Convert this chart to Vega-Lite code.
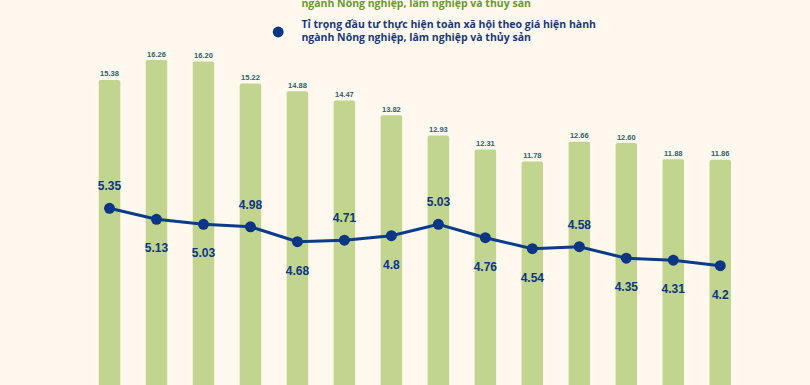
{
  "$schema": "https://vega.github.io/schema/vega-lite/v6.json",
  "width": 810,
  "height": 385,
  "padding": 0,
  "autosize": {"type": "none"},
  "background": "#fff8ee",
  "config": {
    "view": {"stroke": null},
    "legend": {
      "orient": "none",
      "legendX": 272.7,
      "legendY": -6.7,
      "padding": 0,
      "symbolType": "circle",
      "symbolSize": 119,
      "symbolStrokeWidth": 0,
      "symbolOpacity": 1,
      "labelFont": "Open Sans",
      "labelFontWeight": "bold",
      "labelFontSize": 10.5,
      "labelLineHeight": 14,
      "labelOffset": 17.7,
      "labelLimit": 0,
      "labelBaseline": "middle",
      "rowPadding": 9.2
    }
  },
  "data": {
    "values": [
      {"i": 1, "gdp": 15.38, "dt": 5.35, "side": "above"},
      {"i": 2, "gdp": 16.26, "dt": 5.13, "side": "below"},
      {"i": 3, "gdp": 16.20, "dt": 5.03, "side": "below"},
      {"i": 4, "gdp": 15.22, "dt": 4.98, "side": "above"},
      {"i": 5, "gdp": 14.88, "dt": 4.68, "side": "below"},
      {"i": 6, "gdp": 14.47, "dt": 4.71, "side": "above"},
      {"i": 7, "gdp": 13.82, "dt": 4.8, "side": "below"},
      {"i": 8, "gdp": 12.93, "dt": 5.03, "side": "above"},
      {"i": 9, "gdp": 12.31, "dt": 4.76, "side": "below"},
      {"i": 10, "gdp": 11.78, "dt": 4.54, "side": "below"},
      {"i": 11, "gdp": 12.66, "dt": 4.58, "side": "above"},
      {"i": 12, "gdp": 12.60, "dt": 4.35, "side": "below"},
      {"i": 13, "gdp": 11.88, "dt": 4.31, "side": "below"},
      {"i": 14, "gdp": 11.86, "dt": 4.2, "side": "below"}
    ]
  },
  "encoding": {
    "x": {"field": "i", "type": "quantitative", "axis": null, "scale": {"domain": [-1.2241, 15.8034], "nice": false, "zero": false}}
  },
  "layer": [
    {
      "mark": {"type": "bar", "size": 21.5, "clip": true, "cornerRadiusTopLeft": 2, "cornerRadiusTopRight": 2},
      "encoding": {
        "y": {"field": "gdp", "type": "quantitative", "axis": null, "scale": {"domain": [1.925, 18.908], "nice": false, "zero": false}},
        "y2": {"datum": 0},
        "color": {
          "datum": "gdp",
          "scale": {"domain": ["gdp", "dt"], "range": ["#c2d58e", "#0b3585"]},
          "legend": {
            "title": null,
            "labelExpr": "datum.value == 'gdp' ? ['Tỉ trọng GDP theo giá hiện hành', 'ngành Nông nghiệp, lâm nghiệp và thủy sản'] : ['Tỉ trọng đầu tư thực hiện toàn xã hội theo giá hiện hành', 'ngành Nông nghiệp, lâm nghiệp và thủy sản']",
            "encode": {
              "labels": {"update": {"fill": {"signal": "datum.value == 'gdp' ? '#6a9a2e' : '#17387a'"}, "dy": {"value": -7}}},
              "symbols": {"update": {"opacity": {"signal": "datum.value == 'gdp' ? 0 : 1"}}}
            }
          }
        }
      }
    },
    {
      "mark": {"type": "text", "baseline": "alphabetic", "dy": -3.5, "font": "Liberation Sans", "fontWeight": "bold", "fontSize": 7.5, "color": "#2b6466"},
      "encoding": {
        "y": {"field": "gdp", "type": "quantitative", "axis": null, "scale": {"domain": [1.925, 18.908], "nice": false, "zero": false}},
        "text": {"field": "gdp", "type": "quantitative", "format": ".2f"}
      }
    },
    {
      "mark": {"type": "line", "strokeWidth": 3, "color": "#0b3b8c"},
      "encoding": {
        "y": {"field": "dt", "type": "quantitative", "axis": null, "scale": {"domain": [1.809, 9.524], "nice": false, "zero": false}}
      }
    },
    {
      "mark": {"type": "point", "filled": true, "size": 120, "opacity": 1},
      "encoding": {
        "y": {"field": "dt", "type": "quantitative", "axis": null, "scale": {"domain": [1.809, 9.524], "nice": false, "zero": false}},
        "color": {"datum": "dt"}
      }
    },
    {
      "transform": [{"filter": "datum.side == 'above'"}],
      "mark": {"type": "text", "baseline": "middle", "dy": -22, "font": "Liberation Sans", "fontWeight": "bold", "fontSize": 12, "color": "#0b3585"},
      "encoding": {
        "y": {"field": "dt", "type": "quantitative", "axis": null, "scale": {"domain": [1.809, 9.524], "nice": false, "zero": false}},
        "text": {"field": "dt", "type": "quantitative"}
      }
    },
    {
      "transform": [{"filter": "datum.side == 'below'"}],
      "mark": {"type": "text", "baseline": "middle", "dy": 29, "font": "Liberation Sans", "fontWeight": "bold", "fontSize": 12, "color": "#0b3585"},
      "encoding": {
        "y": {"field": "dt", "type": "quantitative", "axis": null, "scale": {"domain": [1.809, 9.524], "nice": false, "zero": false}},
        "text": {"field": "dt", "type": "quantitative"}
      }
    }
  ],
  "resolve": {"scale": {"y": "independent"}}
}
